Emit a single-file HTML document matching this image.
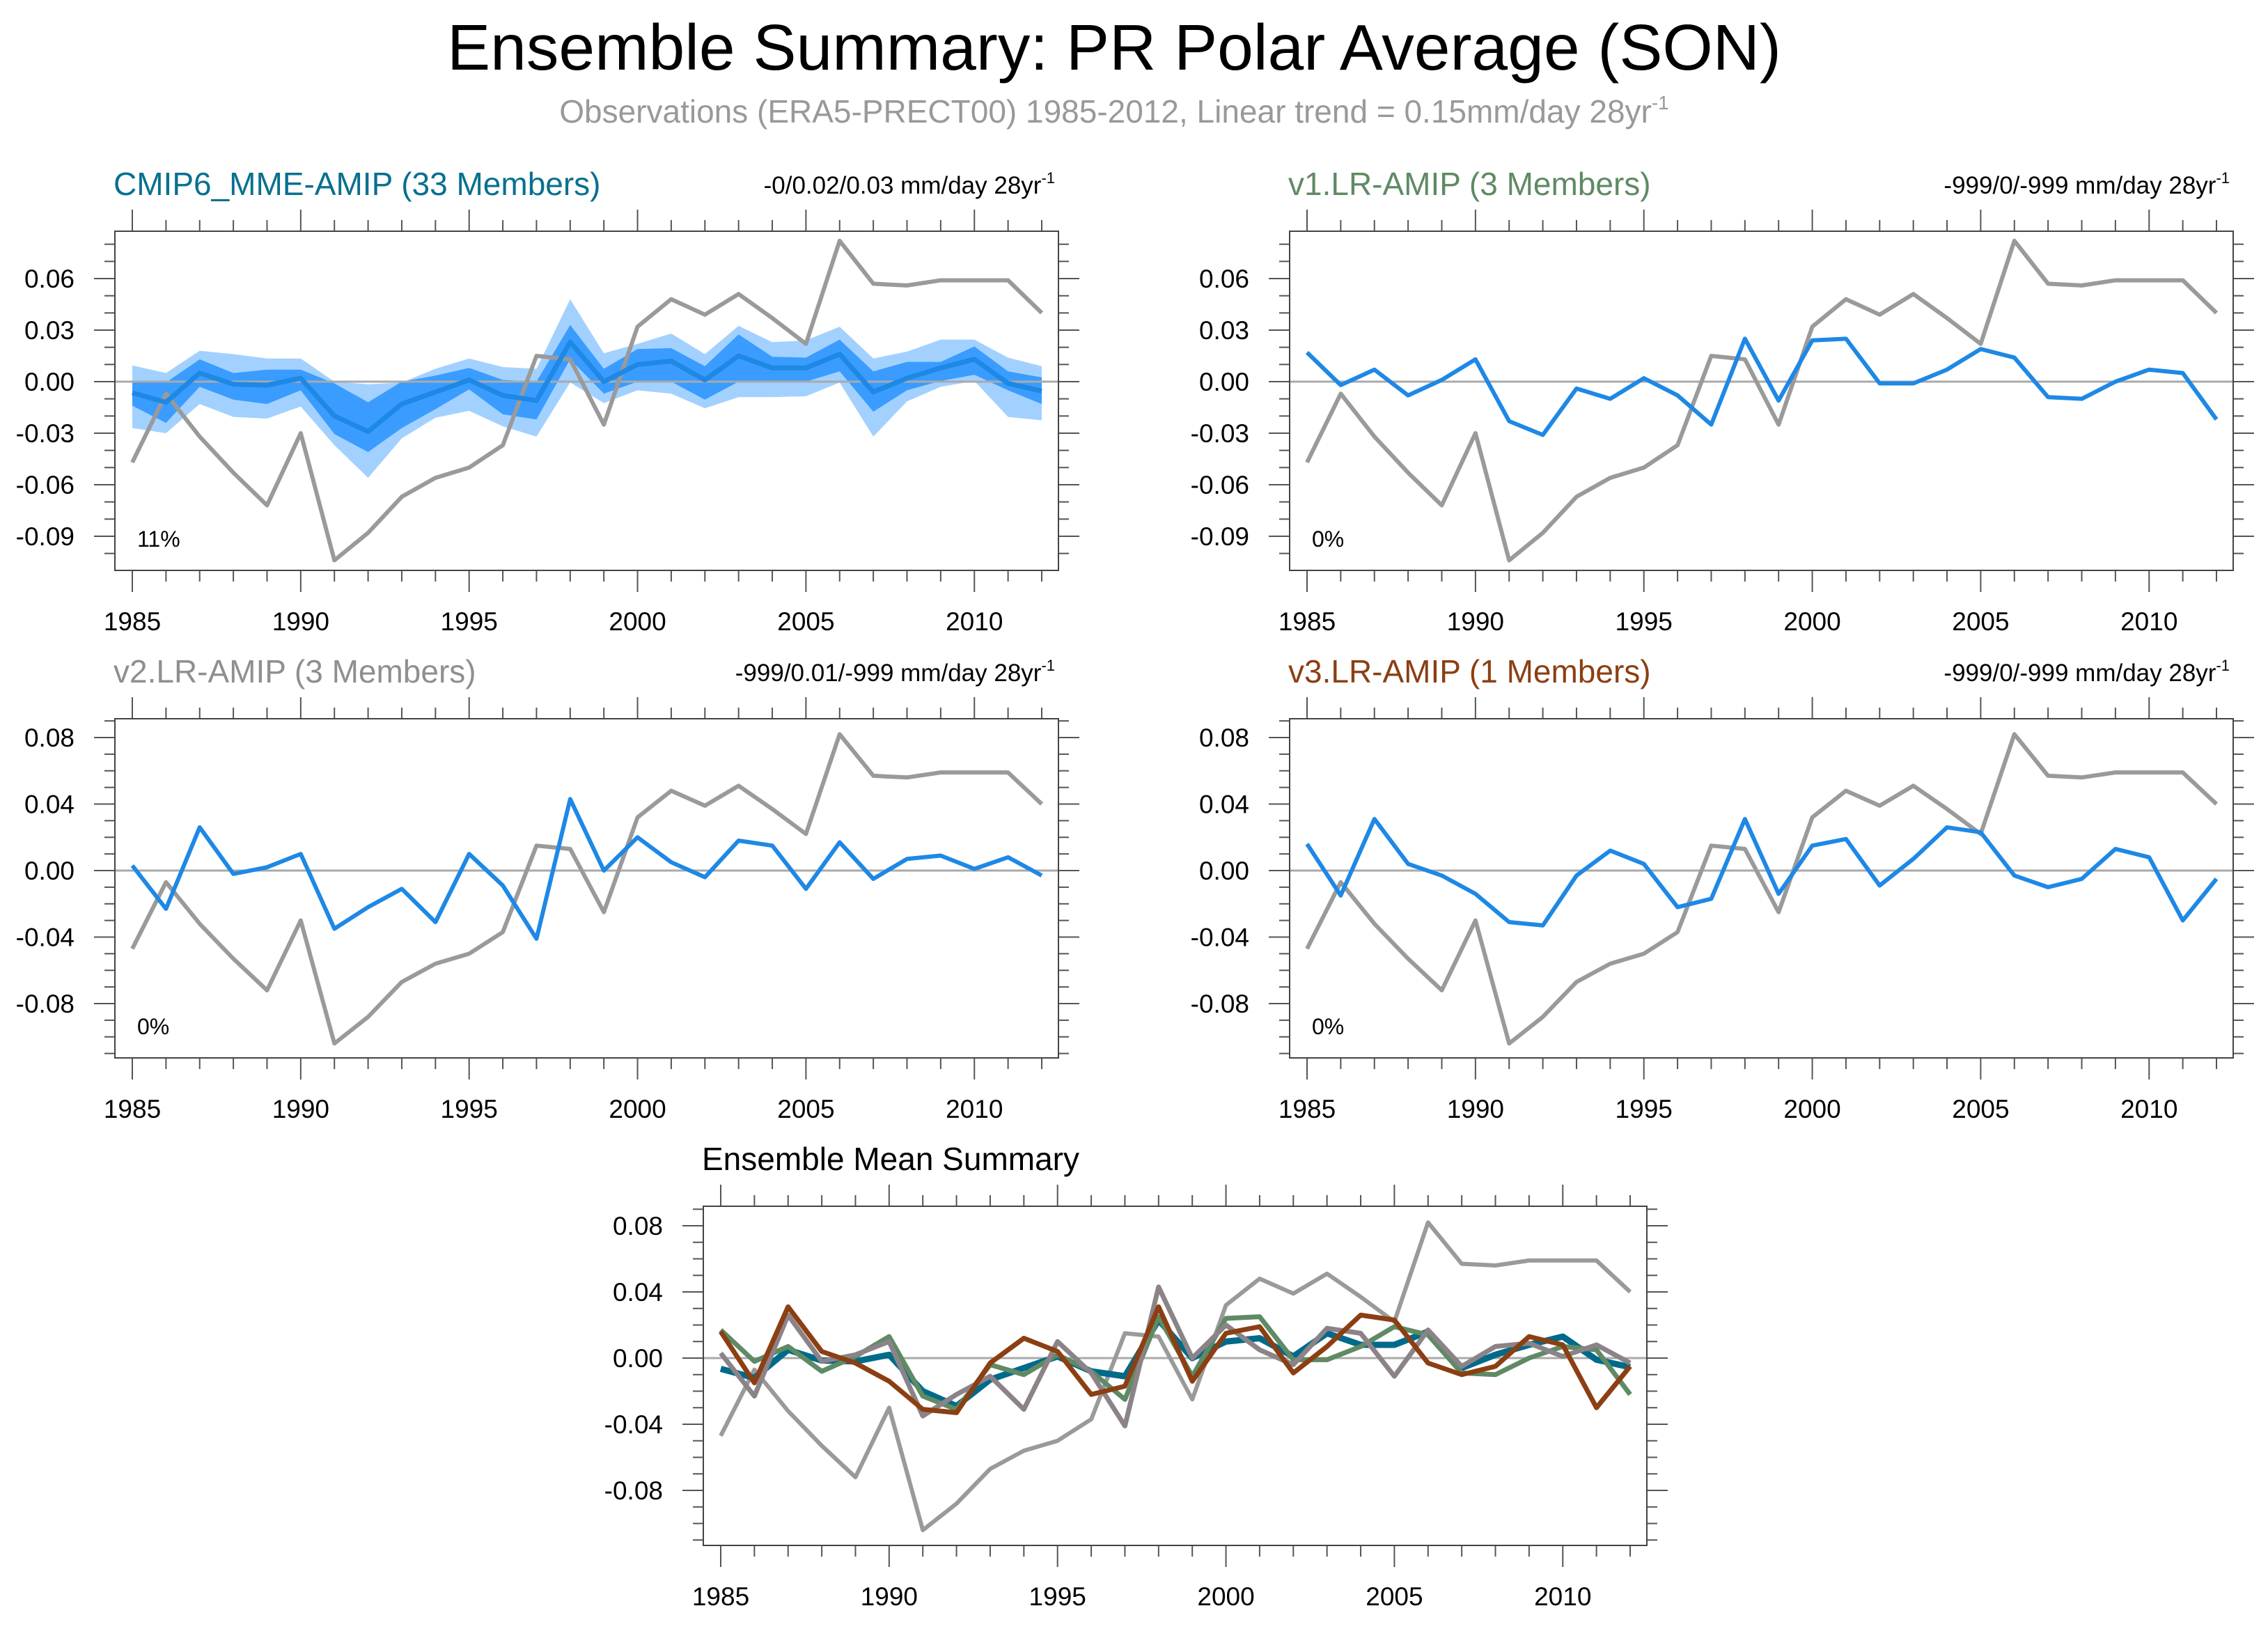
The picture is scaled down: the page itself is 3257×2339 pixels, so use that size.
<!DOCTYPE html>
<html><head><meta charset="utf-8"><style>
html,body{margin:0;padding:0;background:#fff;}
svg{display:block;font-family:"Liberation Sans",sans-serif;}
</style></head><body>
<svg id="chart" width="3257" height="2339" viewBox="0 0 3257 2339" xmlns="http://www.w3.org/2000/svg">
<rect width="3257" height="2339" fill="#fff"/>
<text x="1600" y="100" font-size="93" text-anchor="middle" fill="#000">Ensemble Summary: PR Polar Average (SON)</text>
<text x="1600" y="176" font-size="46" text-anchor="middle" fill="#999">Observations (ERA5-PRECT00) 1985-2012, Linear trend = 0.15mm/day 28yr<tspan font-size="28" dy="-19">-1</tspan></text>
<g id="plots"></g>
</svg>
<script>
const years = [1985,1986,1987,1988,1989,1990,1991,1992,1993,1994,1995,1996,1997,1998,1999,2000,2001,2002,2003,2004,2005,2006,2007,2008,2009,2010,2011,2012];
const obs = [-0.047,-0.007,-0.032,-0.053,-0.072,-0.030,-0.104,-0.088,-0.067,-0.056,-0.050,-0.037,0.015,0.013,-0.025,0.032,0.048,0.039,0.051,0.037,0.022,0.082,0.057,0.056,0.059,0.059,0.059,0.040];
const mmeMean = [-0.0065,-0.012,0.005,-0.0015,-0.002,0.002,-0.020,-0.029,-0.013,-0.006,0.001,-0.008,-0.011,0.023,0.000,0.010,0.012,0.001,0.015,0.008,0.008,0.016,-0.006,0.002,0.008,0.013,-0.001,-0.0055];
const mmeQ75 = [0.000,-0.0005,0.013,0.005,0.007,0.007,-0.001,-0.012,0.000,0.0035,0.008,0.001,0.000,0.033,0.0075,0.019,0.0195,0.009,0.0275,0.0145,0.014,0.0245,0.006,0.0115,0.0115,0.0205,0.006,0.0025];
const mmeQ25 = [-0.014,-0.024,-0.003,-0.0105,-0.013,-0.005,-0.0305,-0.041,-0.027,-0.016,-0.0045,-0.019,-0.022,0.013,-0.007,0.000,0.000,-0.0105,0.000,0.000,0.000,0.006,-0.0175,-0.005,0.0004,0.004,-0.005,-0.013];
const mmeMax = [0.0095,0.005,0.018,0.016,0.0135,0.0135,0.000,-0.0015,-0.0005,0.0075,0.0135,0.0085,0.0075,0.048,0.0165,0.022,0.028,0.016,0.0325,0.023,0.024,0.032,0.0135,0.0175,0.0245,0.0245,0.014,0.009];
const mmeMin = [-0.027,-0.030,-0.013,-0.0205,-0.0215,-0.0145,-0.037,-0.056,-0.033,-0.021,-0.017,-0.026,-0.032,-0.0005,-0.0125,-0.005,-0.007,-0.0155,-0.009,-0.009,-0.0085,-0.0005,-0.032,-0.0115,-0.003,0.0004,-0.0205,-0.0225];
const v1 = [0.017,-0.002,0.007,-0.008,0.001,0.013,-0.023,-0.031,-0.004,-0.010,0.002,-0.008,-0.025,0.025,-0.011,0.024,0.025,-0.001,-0.001,0.007,0.019,0.014,-0.009,-0.010,0.000,0.007,0.005,-0.022];
const v2 = [0.003,-0.023,0.026,-0.002,0.002,0.010,-0.035,-0.022,-0.011,-0.031,0.010,-0.009,-0.041,0.043,0.000,0.020,0.005,-0.004,0.018,0.015,-0.011,0.017,-0.005,0.007,0.009,0.001,0.008,-0.003];
const v3 = [0.016,-0.015,0.031,0.004,-0.003,-0.014,-0.031,-0.033,-0.003,0.012,0.004,-0.022,-0.017,0.031,-0.014,0.015,0.019,-0.009,0.007,0.026,0.023,-0.003,-0.010,-0.005,0.013,0.008,-0.030,-0.005];
const ticks1 = [0.06,0.03,0.00,-0.03,-0.06,-0.09];
const tickLabels1 = ["0.06","0.03","0.00","-0.03","-0.06","-0.09"];
const ticks2 = [0.08,0.04,0.00,-0.04,-0.08];
const tickLabels2 = ["0.08","0.04","0.00","-0.04","-0.08"];
const xTicks = [1985,1990,1995,2000,2005,2010];

const NS = "http://www.w3.org/2000/svg";
const root = document.getElementById('plots');
function mk(tag, attrs, parent){
  const e = document.createElementNS(NS, tag);
  for (const k in attrs) e.setAttribute(k, attrs[k]);
  (parent||root).appendChild(e);
  return e;
}
const BLUE = "#1e88e5", GRAY = "#9a9a9a";

function panel(cfg){
  const g = mk('g', {});
  
  
  const L = cfg.left, R = cfg.left + 1355, T = cfg.top, B = cfg.top + 487;
  const x0 = L + 25, xs = (1306)/27;
  const X = y => x0 + (y - 1985) * xs;
  const Y = v => cfg.zero - v * cfg.perUnit;
  for (let k = -12; k <= 10; k++) {
    const v = k/100; const yy = Y(v);
    if (yy < T || yy > B) continue;
    const major = cfg.majorStep && Math.abs(Math.round(v/cfg.majorStep)*cfg.majorStep - v) < 1e-6;
    const len = major ? 30 : 15;
    mk('line', {x1:L-len, x2:L, y1:yy, y2:yy, stroke:"#555", "stroke-width":2}, g);
    mk('line', {x1:R, x2:R+len, y1:yy, y2:yy, stroke:"#555", "stroke-width":2}, g);
  }
  for (let yr = 1985; yr <= 2012; yr++) {
    const xx = X(yr); const major = yr % 5 === 0; const len = major ? 31 : 16;
    mk('line', {x1:xx, x2:xx, y1:T-len, y2:T, stroke:"#555", "stroke-width":2}, g);
    mk('line', {x1:xx, x2:xx, y1:B, y2:B+len, stroke:"#555", "stroke-width":2}, g);
  }
  cfg.ticks.forEach((v,i) => {
    const t = mk('text', {x:L-58, y:Y(v)+13, "font-size":37, "text-anchor":"end"}, g);
    
    
    t.textContent = cfg.tickLabels[i];
  });
  xTicks.forEach(yr => {
    const t = mk('text', {x:X(yr), y:B+86, "font-size":37, "text-anchor":"middle"}, g);
    
    
    t.textContent = yr;
  });
  const area = (lo, hi, fill, nm) => {
    let d = hi.map((v,i)=>(i?'L':'M')+X(years[i])+','+Y(v)).join(' ');
    for (let i = lo.length-1; i >= 0; i--) d += ' L'+X(years[i])+','+Y(lo[i]);
    const p = mk('path', {d:d+' Z', fill:fill, stroke:"none"}, g);
    
    
  };
  if (cfg.bands) {
    area(mmeMin, mmeMax, "#a3d1ff", 'spread-band');
    area(mmeQ25, mmeQ75, "#3a9cff", 'interquartile-band');
  }
  mk('line', {x1:L, x2:R, y1:Y(0), y2:Y(0), stroke:"#aaa", "stroke-width":3}, g);
  cfg.series.forEach(s => {
    const d = s.data.map((v,i)=>(i?'L':'M')+X(years[i])+','+Y(v)).join(' ');
    const p = mk('path', {d:d, fill:"none", stroke:s.color, "stroke-width":s.w, "stroke-linejoin":"round"}, g);
    
    
  });
  const fr = mk('rect', {x:L, y:T, width:R-L, height:B-T, fill:"none", stroke:"#444", "stroke-width":2}, g);
  
  
  if (cfg.title) {
    const t = mk('text', {x:L-2, y:T-52, "font-size":46, fill:cfg.titleColor}, g);
    
    
    t.textContent = cfg.title;
  }
  if (cfg.trend) {
    const t = mk('text', {x:R-5, y:T-54, "font-size":35, "text-anchor":"end"}, g);
    
    
    t.textContent = cfg.trend;
    const s = mk('tspan', {"font-size":22, dy:-15}, t); s.textContent = "-1";
  }
  if (cfg.pct) {
    const t = mk('text', {x:L+32, y:cfg.pctY, "font-size":32}, g);
    
    
    t.textContent = cfg.pct;
  }
}

const obsS = {data:obs, color:GRAY, w:6, name:'observations-line'};
panel({name:'cmip6-panel', left:165, top:332, zero:548, perUnit:74/0.03, majorStep:0.03, ticks:ticks1, tickLabels:tickLabels1, bands:true,
  series:[obsS, {data:mmeMean, color:"#1e88e5", w:7, name:'mme-mean-line'}],
  title:"CMIP6_MME-AMIP (33 Members)", titleColor:"#08708f", trend:"-0/0.02/0.03 mm/day 28yr", pct:"11%", pctY:785});
panel({name:'v1-panel', left:1852, top:332, zero:548, perUnit:74/0.03, majorStep:0.03, ticks:ticks1, tickLabels:tickLabels1,
  series:[obsS, {data:v1, color:BLUE, w:6, name:'v1-line'}],
  title:"v1.LR-AMIP (3 Members)", titleColor:"#5f8a64", trend:"-999/0/-999 mm/day 28yr", pct:"0%", pctY:785});
panel({name:'v2-panel', left:165, top:1032, zero:1250, perUnit:95.5/0.04, majorStep:0.04, ticks:ticks2, tickLabels:tickLabels2,
  series:[obsS, {data:v2, color:BLUE, w:6, name:'v2-line'}],
  title:"v2.LR-AMIP (3 Members)", titleColor:"#8f8f8f", trend:"-999/0.01/-999 mm/day 28yr", pct:"0%", pctY:1485});
panel({name:'v3-panel', left:1852, top:1032, zero:1250, perUnit:95.5/0.04, majorStep:0.04, ticks:ticks2, tickLabels:tickLabels2,
  series:[obsS, {data:v3, color:BLUE, w:6, name:'v3-line'}],
  title:"v3.LR-AMIP (1 Members)", titleColor:"#8b3f12", trend:"-999/0/-999 mm/day 28yr", pct:"0%", pctY:1485});
panel({name:'ensemble-mean-panel', left:1010, top:1732, zero:1950, perUnit:95/0.04, majorStep:0.04, ticks:ticks2, tickLabels:tickLabels2,
  series:[obsS,
    {data:mmeMean, color:"#006a8a", w:9, name:'mme-mean-line'},
    {data:v1, color:"#5f8a64", w:7, name:'v1-mean-line'},
    {data:v2, color:"#8c8388", w:7, name:'v2-mean-line'},
    {data:v3, color:"#8b3f12", w:7, name:'v3-mean-line'}],
  title:"Ensemble Mean Summary", titleColor:"#000"});
</script>
</body></html>
